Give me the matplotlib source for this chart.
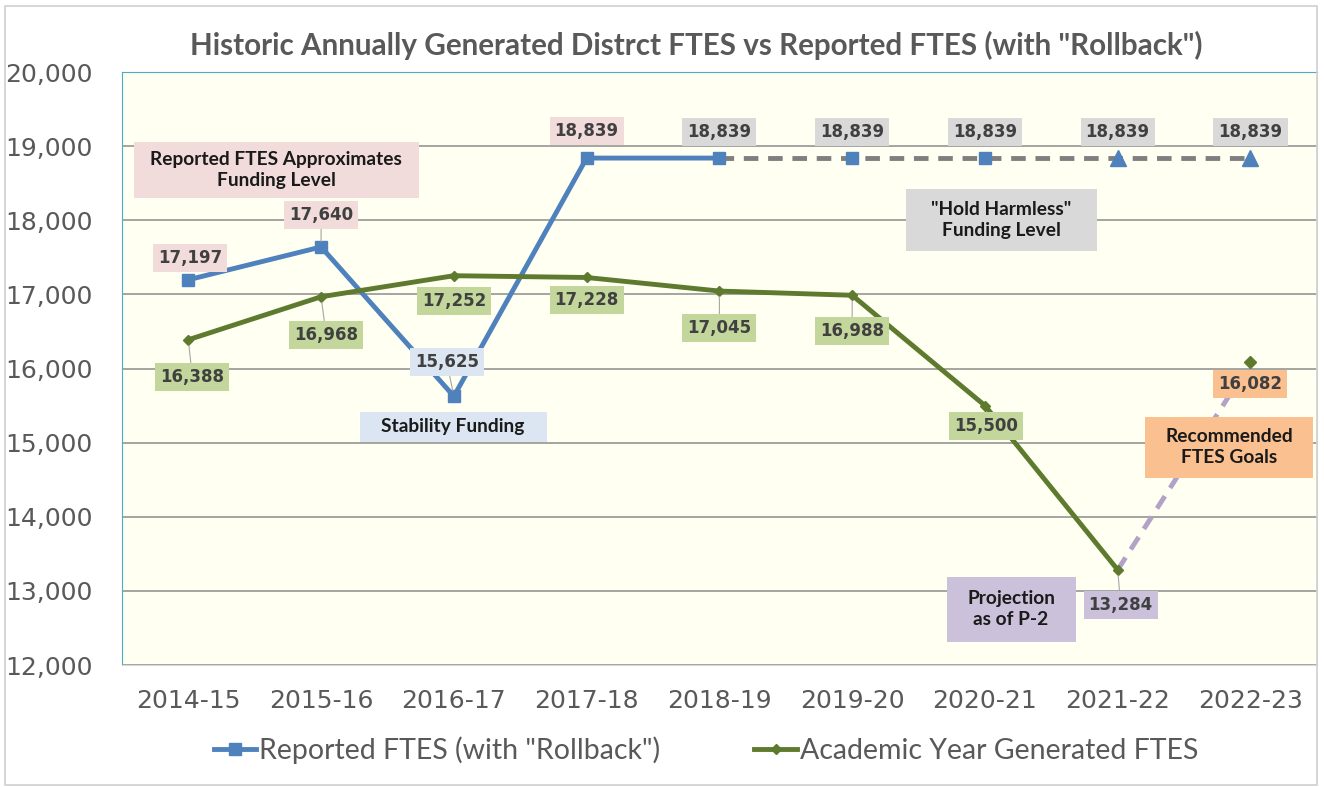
import numpy as np
import matplotlib.pyplot as plt
from matplotlib.lines import Line2D

# data
years = ['2014-15', '2015-16', '2016-17', '2017-18', '2018-19',
         '2019-20', '2020-21', '2021-22', '2022-23']
reported = [17197, 17640, 15625, 18839, 18839]           # solid blue part
hold_harmless = [18839, 18839, 18839, 18839, 18839]      # 2018-19 .. 2022-23, dashed
generated = [16388, 16968, 17252, 17228, 17045, 16988, 15500, 13284]
goal = [13284, 16082]                                    # 2021-22 -> 2022-23

blue = '#4F81BD'
green = '#5D7A2E'
gray_txt = '#404040'
tick_col = '#595959'

x = np.arange(len(years))

fig = plt.figure(figsize=(13.24, 7.87), dpi=100)
fig.patch.set_facecolor('white')
ax = fig.add_axes([0.0921, 0.155, 0.9025, 0.7535])
ax.set_facecolor('#FFFFF2')

# outer border of the chart
fig.add_artist(plt.Rectangle((0.004, 0.003), 0.991, 0.99, transform=fig.transFigure,
                             fill=False, edgecolor='#D0D0D0', linewidth=1.2))

# lines
ax.plot(x[4:], hold_harmless, color='#7F7F7F', linestyle=(0, (3, 2)), linewidth=3.5, zorder=2)
ax.plot(x[5:7], hold_harmless[1:3], 's', color=blue, markersize=8, zorder=3)
ax.plot(x[7:9], hold_harmless[3:5], '^', color=blue, markersize=12, zorder=3)
ax.plot(x[:5], reported, '-s', color=blue, linewidth=3.5, markersize=8, zorder=4)
ax.plot(x[7:9], goal, color='#B3A2C7', linestyle=(0, (3, 2)), linewidth=3.5, zorder=2)
ax.plot(x[:8], generated, '-D', color=green, linewidth=3.5, markersize=5, zorder=4)
ax.plot(x[8], goal[1], 'D', color=green, markersize=6, zorder=4)

ax.set_xlim(-0.5, 8.5)
ax.set_ylim(12000, 20000)
ax.set_yticks(np.arange(12000, 20001, 1000))
ax.set_yticklabels([f'{v:,}' for v in range(12000, 20001, 1000)])
ax.set_xticks(x)
ax.set_xticklabels(years)
ax.tick_params(axis='both', length=0, labelsize=18, labelcolor=tick_col)
ax.tick_params(axis='y', pad=21)
ax.tick_params(axis='x', pad=17)
ax.yaxis.grid(True, color='#8C8C8C', linewidth=1.1)
ax.set_axisbelow(True)
for s in ['left', 'top']:
    ax.spines[s].set_color('#4BACC6')
ax.spines['bottom'].set_color('#D9D9D9')
ax.spines['right'].set_color('#D9D9D9')


def label(xi, yi, dx, dy, color, leader=False):
    ax.annotate(f'{yi:,}', xy=(xi, yi), xytext=(dx, dy), textcoords='offset pixels',
                ha='center', va='center', fontsize=12, fontweight='bold', color=gray_txt,
                bbox=dict(boxstyle='square,pad=0.3', facecolor=color, edgecolor='none'),
                arrowprops=dict(arrowstyle='-', color='#A6A6A6', lw=0.8,
                                shrinkA=0, shrinkB=4) if leader else None,
                zorder=6)


pink = '#F2DCDB'
lblue = '#DCE6F2'
lgray = '#D9D9D9'
lgreen = '#C3D69B'
lav = '#CCC1DA'
orange = '#FAC090'

rep_off = [(2, 22), (0, 32), (-7, 34), (0, 27), (0, 26)]
rep_col = [pink, pink, lblue, pink, lgray]
for i in range(5):
    label(x[i], reported[i], rep_off[i][0], rep_off[i][1], rep_col[i], leader=i in (1, 2))
for i in range(5, 9):
    label(x[i], hold_harmless[i - 4], 0, 26, lgray)

gen_off = [(4, -37), (5, -38), (0, -25), (0, -23), (0, -37), (0, -36), (1, -20), (3, -35)]
gen_col = [lgreen] * 7 + [lav]
for i in range(8):
    label(x[i], generated[i], gen_off[i][0], gen_off[i][1], gen_col[i],
          leader=i in (0, 1, 4, 5, 7))
label(x[8], goal[1], 0, -22, orange)


def note(px, py, txt, color, w, h):
    # px, py: box center in figure pixels
    fig.add_artist(plt.Rectangle(((px - w / 2) / 1324, 1 - (py + h / 2) / 787), w / 1324, h / 787,
                                 transform=fig.transFigure, facecolor=color, edgecolor='none',
                                 zorder=5))
    fig.text(px / 1324, 1 - py / 787, txt, ha='center', va='center', fontsize=13.8,
             fontweight='bold', color='#1A1A1A', linespacing=1.3, zorder=6,
             family='Lato')


note(276, 170, 'Reported FTES Approximates\nFunding Level', pink, 285, 56)
note(453, 427, 'Stability Funding', lblue, 187, 30)
note(1001, 220, '"Hold Harmless"\nFunding Level', lgray, 191, 62)
note(1229, 447, 'Recommended\nFTES Goals', orange, 168, 61)
note(1011, 609, 'Projection\nas of P-2', lav, 129, 65)

fig.text(696 / 1324, 1 - 45 / 787, 'Historic Annually Generated Distrct FTES vs Reported FTES (with "Rollback")',
         ha='center', va='center', fontsize=21.3, fontweight='bold', color=tick_col, family='Lato')

handles = [Line2D([], [], color=blue, marker='s', linewidth=3.5, markersize=8),
           Line2D([], [], color=green, marker='D', linewidth=3.5, markersize=5)]
fig.legend(handles, ['Reported FTES (with "Rollback")', 'Academic Year Generated FTES'],
           loc='center', bbox_to_anchor=(706 / 1324, 1 - 750 / 787), ncol=2, frameon=False,
           labelcolor=tick_col, handlelength=1.5, handletextpad=0.1,
           columnspacing=3.3, prop={'family': 'Lato', 'size': 20.5})

fig.savefig('out.png', dpi=100)
